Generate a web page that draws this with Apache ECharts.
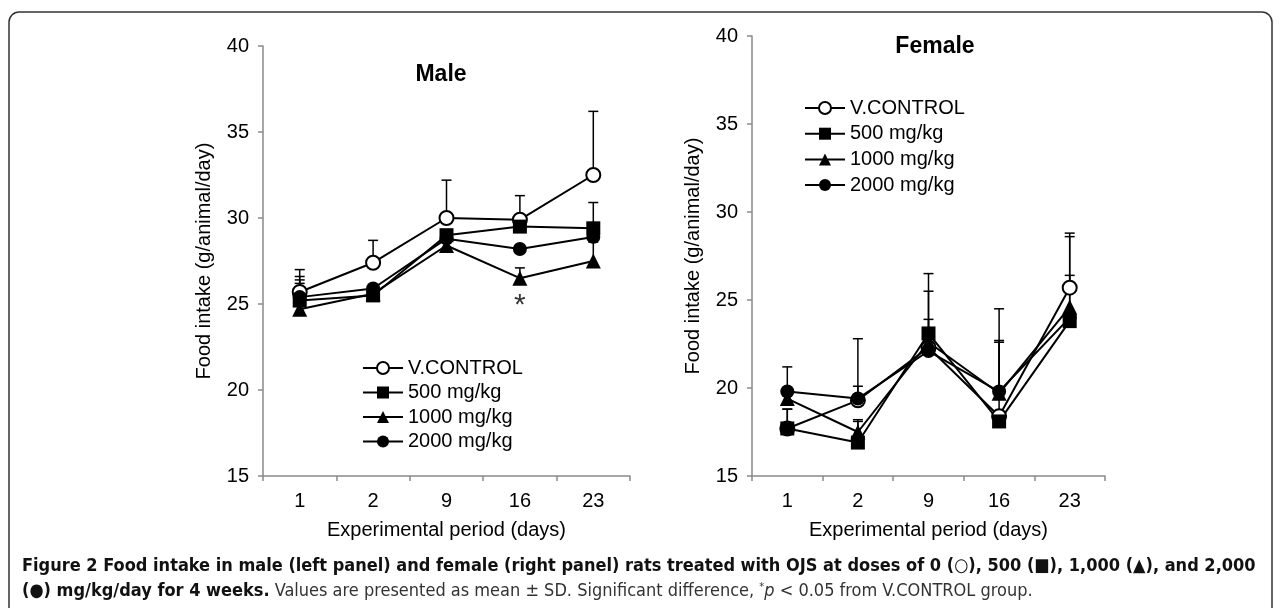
<!DOCTYPE html>
<html>
<head>
<meta charset="utf-8">
<script src="https://cdn.jsdelivr.net/npm/echarts@6/dist/echarts.min.js"></script>
<style>
  html, body { margin: 0; padding: 0; background: #fff; }
  #chart { width: 1281px; height: 608px; }
</style>
</head>
<body>
<div id="chart"></div>
<script>
// ==== DATA ====
var days = ["1", "2", "9", "16", "23"];
var groupNames = ["V.CONTROL", "500 mg/kg", "1000 mg/kg", "2000 mg/kg"];
var yTicks = [15, 20, 25, 30, 35, 40];

// male means (g/animal/day)
var maleControl = [25.7, 27.4, 30.0, 29.9, 32.5];
var male500 = [25.2, 25.5, 29.0, 29.5, 29.4];
var male1000 = [24.7, 25.6, 28.4, 26.5, 27.5];
var male2000 = [25.4, 25.9, 28.8, 28.2, 28.9];
// male SD (upper bar only)
var maleControlSD = [1.3, 1.3, 2.2, 1.4, 3.7];
var male500SD = [1.2, 0.2, 0.2, 0.2, 1.5];
var male1000SD = [1.5, 0.2, 0.2, 0.6, 1.1];
var male2000SD = [1.2, 0.2, 0.2, 0.2, 0.2];
var maleStar = ["16", 24.9];

// female means
var femaleControl = [17.7, 19.3, 22.3, 18.4, 25.7];
var female500 = [17.7, 16.9, 23.1, 18.1, 23.8];
var female1000 = [19.4, 17.5, 22.6, 19.7, 24.6];
var female2000 = [19.8, 19.4, 22.1, 19.8, 24.0];
// female SD
var femaleControlSD = [1.1, 3.5, 4.2, 4.2, 3.1];
var female500SD = [1.1, 1.2, 0.8, 0.2, 2.6];
var female1000SD = [0.2, 0.7, 0.2, 3.0, 4.0];
var female2000SD = [1.4, 0.7, 3.4, 4.7, 0.2];

var captionBold1 = "Figure 2 Food intake in male (left panel) and female (right panel) rats treated with OJS at doses of 0 (\u25CB), 500 (\u25A0), 1,000 (\u25B2), and 2,000";
var captionBold2 = "(\u25CF) mg/kg/day for 4 weeks.";
var captionText2 = " Values are presented as mean \u00B1 SD. Significant difference, ";
var captionText3 = " < 0.05 from V.CONTROL group.";

// ==== CHART ====
var FONT = "'Liberation Sans', Arial, sans-serif";
var CAPTION_FONT = "'Liberation Sans Narrow', 'DejaVu Sans Condensed', sans-serif";
var AXIS_GRAY = "#8a8a8a";
var symbols = ["emptyCircle", "rect", "triangle", "circle"];
var symbolSizes = [14, 14, 15, 14];

function makeXAxis(gridIndex) {
  return {
    type: "category",
    gridIndex: gridIndex,
    data: days,
    name: "Experimental period (days)",
    nameLocation: "middle",
    nameGap: 44,
    nameTextStyle: { fontSize: 20, color: "#000", fontFamily: FONT },
    axisLine: { lineStyle: { color: AXIS_GRAY, width: 1.5 } },
    axisTick: { show: true, length: 5, lineStyle: { color: AXIS_GRAY, width: 1.5 } },
    axisLabel: { fontSize: 20, color: "#000", fontFamily: FONT, margin: 15 },
    splitLine: { show: false },
  };
}

function makeYAxis(gridIndex) {
  return {
    type: "value",
    gridIndex: gridIndex,
    min: yTicks[0],
    max: yTicks[yTicks.length - 1],
    interval: 5,
    name: "Food intake (g/animal/day)",
    nameLocation: "middle",
    nameGap: 49,
    nameTextStyle: { fontSize: 20, color: "#000", fontFamily: FONT },
    axisLine: { show: true, lineStyle: { color: AXIS_GRAY, width: 1.5 } },
    axisTick: { show: true, length: 5, lineStyle: { color: AXIS_GRAY, width: 1.5 } },
    axisLabel: { fontSize: 20, color: "#000", fontFamily: FONT, margin: 14 },
    splitLine: { show: false },
  };
}

function lineSeries(name, idx, values, gridIndex) {
  return {
    type: "line",
    name: name,
    xAxisIndex: gridIndex,
    yAxisIndex: gridIndex,
    data: values,
    symbol: symbols[idx],
    symbolSize: symbolSizes[idx],
    showAllSymbol: true,
    lineStyle: { color: "#000", width: 2 },
    itemStyle: { color: "#000", borderColor: "#000", borderWidth: idx === 0 ? 1.5 : 0 },
    emphasis: { disabled: true },
    z: 3,
  };
}

function renderErrorBar(params, api) {
  var base = api.coord([api.value(0), api.value(1)]);
  var top = api.coord([api.value(0), api.value(2)]);
  var half = 5;
  var style = { stroke: "#000", lineWidth: 1.5 };
  return {
    type: "group",
    children: [
      { type: "line", shape: { x1: base[0], y1: base[1], x2: top[0], y2: top[1] }, style: style },
      { type: "line", shape: { x1: top[0] - half, y1: top[1], x2: top[0] + half, y2: top[1] }, style: style },
    ],
  };
}

function errorSeries(values, sds, gridIndex) {
  var data = values.map(function (v, i) {
    return [i, v, v + sds[i]];
  });
  return {
    type: "custom",
    name: "sd",
    xAxisIndex: gridIndex,
    yAxisIndex: gridIndex,
    renderItem: renderErrorBar,
    data: data,
    silent: true,
    z: 2,
  };
}

var maleSets = [maleControl, male500, male1000, male2000];
var maleSDs = [maleControlSD, male500SD, male1000SD, male2000SD];
var femaleSets = [femaleControl, female500, female1000, female2000];
var femaleSDs = [femaleControlSD, female500SD, female1000SD, female2000SD];

var series = [];
maleSets.forEach(function (vals, i) {
  series.push(errorSeries(vals, maleSDs[i], 0));
});
femaleSets.forEach(function (vals, i) {
  series.push(errorSeries(vals, femaleSDs[i], 1));
});
maleSets.forEach(function (vals, i) {
  series.push(lineSeries(groupNames[i], i, vals, 0));
});
femaleSets.forEach(function (vals, i) {
  series.push(lineSeries(groupNames[i], i, vals, 1));
});

// significance star (male, 1000 mg/kg, day 16)
series.push({
  type: "scatter",
  name: "star",
  xAxisIndex: 0,
  yAxisIndex: 0,
  data: [maleStar],
  symbol: "circle",
  symbolSize: 2,
  itemStyle: { color: "rgba(0,0,0,0)" },
  silent: true,
  label: {
    show: true,
    position: "inside",
    formatter: "*",
    fontSize: 30,
    color: "#000",
    fontFamily: FONT,
  },
  z: 4,
});

function makeLegend(left, top, gap) {
  return {
    data: groupNames,
    orient: "vertical",
    left: left,
    top: top,
    itemWidth: 40,
    itemHeight: 15,
    itemGap: gap,
    selectedMode: false,
    textStyle: { fontSize: 20, color: "#000", fontFamily: FONT },
  };
}

var chart = echarts.init(document.getElementById("chart"), null, { renderer: "canvas" });

chart.setOption({
  backgroundColor: "#fff",
  animation: false,
  title: [
    {
      text: "Male",
      left: 436,
      top: 58,
      textAlign: "center",
      textStyle: { fontSize: 23, fontWeight: "bold", color: "#000", fontFamily: FONT },
    },
    {
      text: "Female",
      left: 930,
      top: 30,
      textAlign: "center",
      textStyle: { fontSize: 23, fontWeight: "bold", color: "#000", fontFamily: FONT },
    },
  ],
  legend: [makeLegend(357, 353, 4.5), makeLegend(799, 93, 5.7)],
  grid: [
    { left: 263, top: 46, width: 367, height: 430, outerBoundsMode: "none" },
    { left: 752, top: 36, width: 353, height: 440, outerBoundsMode: "none" },
  ],
  xAxis: [makeXAxis(0), makeXAxis(1)],
  yAxis: [makeYAxis(0), makeYAxis(1)],
  series: series,
  graphic: [
    {
      type: "rect",
      shape: { x: 9, y: 12, width: 1263, height: 640, r: 10 },
      style: { fill: "none", stroke: "#333", lineWidth: 1.5 },
      silent: true,
    },
    {
      type: "text",
      x: 22,
      y: 566,
      style: {
        text: captionBold1,
        fontSize: 18,
        fontWeight: "bold",
        fontFamily: CAPTION_FONT,
        fill: "#111",
        verticalAlign: "middle",
      },
    },
    {
      type: "text",
      x: 22,
      y: 591,
      style: {
        text: "{b|" + captionBold2 + "}{n|" + captionText2 + "}{s|*}{i|p}{n|" + captionText3 + "}",
        verticalAlign: "middle",
        rich: {
          b: { fontSize: 18, fontWeight: "bold", fontFamily: CAPTION_FONT, fill: "#111" },
          n: { fontSize: 18, fontFamily: CAPTION_FONT, fill: "#333" },
          s: { fontSize: 11, fontFamily: CAPTION_FONT, fill: "#333", verticalAlign: "top" },
          i: { fontSize: 18, fontStyle: "italic", fontFamily: CAPTION_FONT, fill: "#333" },
        },
      },
    },
  ],
});
</script>
</body>
</html>
